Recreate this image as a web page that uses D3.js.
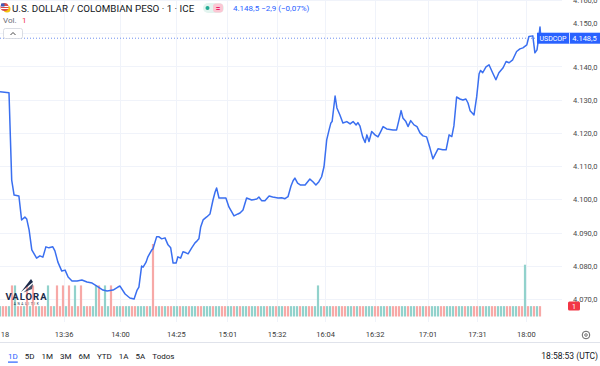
<!DOCTYPE html>
<html>
<head>
<meta charset="utf-8" />
<style>
body {
  margin: 0;
  background-color: #fff;
}
svg {
  display: block;
  font-family: Roboto, "Noto Sans", sans-serif;
}
</style>
<script src="https://cdnjs.cloudflare.com/ajax/libs/d3/7.8.5/d3.min.js"></script>
</head>
<body>
<div id="chart"></div>
<script>
// USD/COP 1-minute line: bar index -> price
var priceT = [0,3,3.9,4.7,6.3,7.2,8.3,8.9,9.7,10.6,
  12.2,13.3,14.3,15.3,16.3,17.6,18.3,19.3,20.6,21.7,
  22.7,24,25.7,27.3,29,30.7,32.3,33.3,34.3,35.7,
  37.7,39.3,40,41.7,43.3,44.7,45.7,46.3,47.2,47.7,
  48.7,49.3,50.6,51,52.2,53,53.9,55,56,56.9,
  57.7,58.7,59.3,60.2,61,62,62.7,63.9,65,65.7,
  66.3,66.9,67.7,68.9,70,71,71.7,72.2,73,73.9,
  75.3,76.3,78,79.3,80,81,82.2,83.9,85.6,86.3,
  87.2,88.3,89.7,90.9,92.7,93.9,95,96,97,97.7,
  98.3,99.2,100.2,101.7,103.3,104.3,105.3,106.3,107.2,108,
  108.9,109.7,110.3,110.7,111.7,112.3,113.3,114.3,115.6,116.7,
  117.7,118.7,119.3,120,120.9,121.7,122.3,123,123.9,125,
  126,126.9,127.7,128.9,131,132.2,133,133.7,134.3,135.3,
  136,136.9,138,139,140,141,142.2,143.3,144.3,146,
  147.6,148.7,149.7,150.6,151.3,152.2,153.3,154.3,155.3,156,
  156.7,158,158.9,159.7,160.2,160.9,162,163,164.2,165.3,
  166.3,167.7,168.7,169.7,170.9,172.2,173.3,174.3,175.6,176.3,
  177.6,178.3,179,179.7,180,180.3]

var priceV = [4132.4,4132.1,4105.8,4101.3,4101.0,4093.8,4094.7,4094.1,4090.8,4084.8,
  4082.3,4083.0,4082.6,4085.7,4085.4,4085.7,4084.5,4081.1,4078.4,4078.7,
  4076.6,4075.4,4075.4,4075.7,4075.1,4074.8,4073.9,4073.3,4072.7,4072.4,
  4072.7,4073.6,4073.9,4071.5,4070.3,4070.0,4072.7,4073.6,4079.9,4079.6,
  4081.1,4082.7,4084.8,4085.1,4088.7,4088.7,4088.1,4088.4,4086.3,4085.4,
  4080.8,4080.8,4082.7,4082.3,4084.2,4083.9,4083.6,4085.4,4086.9,4087.5,
  4088.1,4091.7,4093.8,4094.7,4095.6,4099.8,4102.2,4103.4,4100.4,4100.4,
  4100.4,4097.7,4095.0,4095.6,4095.9,4096.8,4100.4,4099.8,4100.1,4100.7,
  4099.6,4099.6,4101.0,4100.7,4100.4,4100.5,4100.2,4100.8,4104.0,4105.6,
  4106.4,4104.9,4104.3,4104.3,4106.1,4105.3,4104.3,4105.3,4106.8,4109.8,
  4117.9,4120.9,4123.0,4123.4,4131.1,4127.5,4125.4,4123.0,4123.4,4122.7,
  4123.4,4122.4,4123.1,4122.0,4118.8,4117.1,4119.4,4117.4,4120.4,4119.4,
  4118.8,4120.4,4121.9,4121.2,4120.9,4120.9,4123.9,4126.7,4124.5,4123.4,
  4121.9,4123.7,4122.4,4121.9,4120.0,4119.1,4118.8,4115.5,4112.2,4115.2,
  4114.9,4114.9,4119.4,4118.9,4122.1,4130.8,4130.2,4129.9,4130.2,4129.0,
  4126.7,4125.4,4130.9,4137.8,4138.8,4138.1,4139.9,4140.5,4138.1,4136.0,
  4138.1,4139.6,4141.5,4141.1,4142.0,4144.5,4145.3,4145.6,4146.5,4149.0,
  4149.2,4144.1,4145.0,4149.5,4151.9,4148.5]

// volume per bar (181 bars) and bar direction u = up, d = down
var volume = [
  1,1,1,1,3,3,1,1,1,3, 1,3,1,1,1,1,3,1,1,3,
  1,3,1,3,1,3,1,3,1,1, 1,1,3,3,1,3,1,3,1,1,
  1,1,1,1,1,1,1,1,1,1, 1,7,1,1,1,1,1,1,1,1,
  1,1,1,1,1,1,1,1,1,1, 1,1,1,1,1,1,1,1,1,1,
  1,1,1,1,1,1,1,1,1,1, 1,1,1,1,1,1,1,1,1,1,
  1,1,1,1,1,1,3,1,1,1, 1,1,1,1,1,1,1,1,1,1,
  1,1,1,1,1,1,1,1,1,1, 1,1,1,1,1,1,1,1,1,1,
  1,1,1,1,1,1,1,1,1,1, 1,1,1,1,1,1,1,1,1,1,
  1,1,1,1,1,1,1,1,1,1, 1,1,1,1,1,5,1,1,1,1,
  1]
var volDir = ("uddududdud" + "udduddudud" + "ddudduddud" + "duudduuddu" +
  "uduudduuud" + "uddududduu" + "duuduudduu" + "uduudduudu" +
  "duuduuduud" + "uuduudduuu" + "duudduuudu" + "uddudduudu" +
  "dduuudduud" + "uddduuduud" + "dudduuuddu" + "uuduuduudd" +
  "uduudduuud" + "duuddududu" + "d").split("")

var timeTickT = [1.5, 21.2, 40, 58.6, 75.8, 92.2, 108.4, 124.9, 142.5, 159, 175.3]
var timeTickLabels = ["18", "13:36", "14:00", "14:25", "15:01", "15:32", "16:04", "16:32", "17:01", "17:31", "18:00"]
var priceTicks = [4070, 4080, 4090, 4100, 4110, 4120, 4130, 4140, 4150, 4160]
var lastPrice = 4148.5
var rangeButtons = ["1D", "5D", "1M", "3M", "6M", "YTD", "1A", "5A", "Todos"]

if (priceT.length !== priceV.length) throw new Error("price arrays differ")

var width = 600, height = 366
var plotRight = 562

var svg = d3.select("#chart").append("svg")
  .attr("width", width)
  .attr("height", height)

var x = d3.scaleLinear().domain([0, 181]).range([0, 543])
var y = d3.scaleLinear().domain([4070, 4160]).range([299, 0])
var yVol = d3.scaleLinear().domain([0, 7]).range([316.5, 244])

var es = d3.formatLocale({ decimal: ",", thousands: ".", grouping: [3], currency: ["", ""] })
var priceFmt = es.format(",.1f")

// grid
svg.append("g").selectAll("line")
  .data(priceTicks)
  .enter().append("line")
  .attr("x1", 0).attr("x2", plotRight)
  .attr("y1", function(d) { return Math.round(y(d)) + 0.5 })
  .attr("y2", function(d) { return Math.round(y(d)) + 0.5 })
  .attr("stroke", "#f0f3fa")
svg.append("g").selectAll("line")
  .data(timeTickT.slice(1))
  .enter().append("line")
  .attr("y1", 0).attr("y2", 322)
  .attr("x1", function(d) { return Math.round(x(d)) + 0.5 })
  .attr("x2", function(d) { return Math.round(x(d)) + 0.5 })
  .attr("stroke", "#f0f3fa")

// volume bars
svg.append("g").selectAll("rect")
  .data(volume)
  .enter().append("rect")
  .attr("x", function(d, i) { return x(i) - 1.1 })
  .attr("width", 2.2)
  .attr("y", function(d) { return yVol(d) })
  .attr("height", function(d) { return yVol(0) - yVol(d) })
  .attr("fill", function(d, i) { return volDir[i] === "u" ? "#92d2cc" : "#f7a9a7" })

// logo watermark
var logo = svg.append("g").attr("fill", "#1c2b4a")
logo.append("path").attr("d", "M21,292 L31,279 L33,282 Z")
logo.append("path").attr("d", "M23.5,292.5 L33,283.5 L32,289 Z").attr("opacity", 0.8)
logo.append("text").attr("x", 26.5).attr("y", 300).attr("text-anchor", "middle")
  .attr("font-size", 9.5).attr("font-weight", "bold").attr("letter-spacing", 1)
  .text("VALORA")
logo.append("text").attr("x", 27).attr("y", 305).attr("text-anchor", "middle")
  .attr("font-size", 3.2).attr("letter-spacing", 1.6)
  .text("ANALITIK")

// current price dotted line
svg.append("line")
  .attr("x1", 0).attr("x2", 537)
  .attr("y1", y(lastPrice)).attr("y2", y(lastPrice))
  .attr("stroke", "#6d8ff0").attr("stroke-dasharray", "1,2")

// price line
var line = d3.line()
  .x(function(d) { return x(d[0]) })
  .y(function(d) { return y(d[1]) })
svg.append("path")
  .datum(d3.zip(priceT, priceV))
  .attr("fill", "none")
  .attr("stroke", "#3a6ff0")
  .attr("stroke-width", 1.5)
  .attr("stroke-linejoin", "round")
  .attr("d", line)

// price axis
var yAxis = svg.append("g")
  .attr("transform", "translate(573,0)")
  .call(d3.axisRight(y).tickValues(priceTicks).tickSize(0).tickPadding(0).tickFormat(priceFmt))
yAxis.select(".domain").remove()
yAxis.selectAll("text")
  .attr("font-family", "Roboto, sans-serif")
  .attr("font-size", 7.5)
  .attr("fill", "#4a4a4a")
  .attr("dy", function(d) { return d === 4150 ? "-1.05em" : "0.35em" })

// time axis
var xAxis = svg.append("g")
  .attr("transform", "translate(0,332)")
  .call(d3.axisBottom(x).tickValues(timeTickT).tickSize(0).tickPadding(0)
    .tickFormat(function(d, i) { return timeTickLabels[i] }))
xAxis.select(".domain").remove()
xAxis.selectAll("text")
  .attr("font-family", "Roboto, sans-serif")
  .attr("font-size", 7.5)
  .attr("fill", "#3a3a3a")

// last price label
var ly = y(lastPrice)
svg.append("rect").attr("x", 537).attr("y", ly - 5.5).attr("width", 63).attr("height", 11)
  .attr("fill", "#2962ff")
svg.append("line").attr("x1", 569.5).attr("x2", 569.5).attr("y1", ly - 5.5).attr("y2", ly + 5.5)
  .attr("stroke", "#fff").attr("stroke-width", 0.8)
svg.append("text").attr("x", 553).attr("y", ly + 2.5).attr("text-anchor", "middle")
  .attr("font-size", 7).attr("fill", "#fff").text("USDCOP")
svg.append("text").attr("x", 584.5).attr("y", ly + 2.5).attr("text-anchor", "middle")
  .attr("font-size", 7.5).attr("fill", "#fff").text(priceFmt(lastPrice))

// volume badge
svg.append("rect").attr("x", 568).attr("y", 301.5).attr("width", 12).attr("height", 9)
  .attr("rx", 1.5).attr("fill", "#f23645")
svg.append("text").attr("x", 574).attr("y", 308.5).attr("text-anchor", "middle")
  .attr("font-size", 7).attr("fill", "#fff").text("1")

// header
var flag = svg.append("g")
flag.append("circle").attr("cx", 7).attr("cy", 9).attr("r", 3.5).attr("fill", "#f4c20d")
flag.append("circle").attr("cx", 4.5).attr("cy", 7).attr("r", 4).attr("fill", "#d94b4b")
flag.append("rect").attr("x", 1).attr("y", 6).attr("width", 7.5).attr("height", 1).attr("fill", "#fff")
flag.append("rect").attr("x", 1).attr("y", 8).attr("width", 7.5).attr("height", 1).attr("fill", "#fff")
flag.append("rect").attr("x", 1).attr("y", 3.5).attr("width", 3.5).attr("height", 3).attr("fill", "#3d5bb8")

svg.append("text").attr("x", 12).attr("y", 11.5)
  .attr("font-size", 9.8).attr("fill", "#131722")
  .text("U.S. DOLLAR / COLOMBIAN PESO · 1 · ICE")

svg.append("rect").attr("x", 203).attr("y", 3).attr("width", 21).attr("height", 10)
  .attr("rx", 5).attr("fill", "#e3f4ef")
svg.append("circle").attr("cx", 207.5).attr("cy", 8).attr("r", 2).attr("fill", "#22ab94")
svg.append("rect").attr("x", 213).attr("y", 3.5).attr("width", 10).attr("height", 9)
  .attr("rx", 3).attr("fill", "#fbc7d4")
svg.append("text").attr("x", 218).attr("y", 11).attr("text-anchor", "middle")
  .attr("font-size", 8).attr("font-weight", "bold").attr("fill", "#e91e63").text("=")

svg.append("text").attr("x", 233).attr("y", 11)
  .attr("font-size", 8).attr("fill", "#2962ff")
  .text("4.148,5  −2,9 (−0,07%)")

svg.append("text").attr("x", 3).attr("y", 23)
  .attr("font-size", 8).attr("fill", "#6a6d78").text("Vol.")
svg.append("text").attr("x", 22).attr("y", 23)
  .attr("font-size", 8).attr("fill", "#f23645").text("1")

svg.append("rect").attr("x", 3.5).attr("y", 28.5).attr("width", 19).attr("height", 10)
  .attr("rx", 2).attr("fill", "#fff").attr("stroke", "#d1d4dc").attr("stroke-width", 0.8)
svg.append("path").attr("d", "M10.5,35 L13,32.5 L15.5,35")
  .attr("fill", "none").attr("stroke", "#333").attr("stroke-width", 0.9)

// settings icon
svg.append("circle").attr("cx", 586).attr("cy", 335).attr("r", 3.8)
  .attr("fill", "none").attr("stroke", "#555").attr("stroke-width", 0.9)
svg.append("circle").attr("cx", 586).attr("cy", 335).attr("r", 1.3)
  .attr("fill", "none").attr("stroke", "#555").attr("stroke-width", 0.8)

// bottom toolbar
svg.append("line").attr("x1", 0).attr("x2", width).attr("y1", 342.5).attr("y2", 342.5)
  .attr("stroke", "#e0e3eb")

var bx = 8
rangeButtons.forEach(function(label, i) {
  var t = svg.append("text").attr("x", bx).attr("y", 359)
    .attr("font-size", 8)
    .attr("fill", i === 0 ? "#2962ff" : "#131722")
    .text(label)
  var w = t.node().getComputedTextLength()
  if (i === 0) {
    svg.append("rect").attr("x", bx).attr("y", 361.5).attr("width", w).attr("height", 1.2)
      .attr("fill", "#2962ff")
  }
  bx += w + 7
})

svg.append("text").attr("x", 598).attr("y", 359).attr("text-anchor", "end")
  .attr("font-size", 8.5).attr("fill", "#131722")
  .text("18:58:53 (UTC)")
</script>
</body>
</html>
